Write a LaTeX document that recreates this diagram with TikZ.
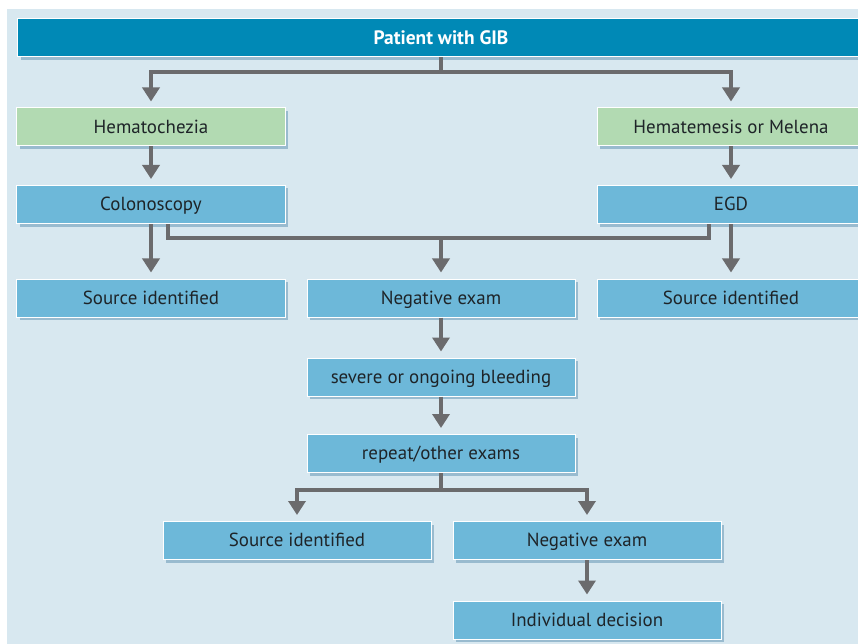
\documentclass[tikz,border=0pt]{standalone}
\usepackage{fontspec}
\setmainfont{PT Sans}
\usetikzlibrary{arrows.meta,shadows}
\definecolor{bgc}{HTML}{D8E8F0}
\definecolor{boxc}{HTML}{6DB8D9}
\definecolor{greenc}{HTML}{B2DAB2}
\definecolor{titlec}{HTML}{0089B6}
\definecolor{linec}{HTML}{6B6B6D}
\definecolor{textc}{HTML}{1E2428}
\definecolor{shadowc}{HTML}{7FA9C2}
\tikzset{
  box/.style={draw=white, line width=1bp, fill=boxc, minimum width=268bp, minimum height=38bp,
    inner sep=0pt, text=textc, font=\fontsize{19}{22}\selectfont,
    text height=15bp, text depth=2.5bp,
    drop shadow={shadow xshift=3bp, shadow yshift=-3bp, fill=shadowc, opacity=0.7}},
  gbox/.style={box, fill=greenc},
  tbox/.style={box, fill=titlec, text=white, font=\fontsize{19.5}{22}\selectfont\bfseries},
  conn/.style={draw=linec, line width=4bp, line join=miter},
  arr/.style={conn, -{Triangle[width=17bp,length=14bp]}, shorten >=6bp}
}
\begin{document}
\begin{tikzpicture}[x=1bp,y=-1bp]
\useasboundingbox (0,0) rectangle (858,644);
\fill[white] (0,0) rectangle (858,644);
\fill[bgc] (7,9) rectangle (870,660);

\node[tbox, minimum width=846bp] (title) at (441,38) {Patient with GIB};
\node[gbox] (hem) at (151,127) {Hematochezia};
\node[gbox] (hme) at (731,127) {Hematemesis or Melena};
\node[box] (colon) at (151,204.5) {Colonoscopy};
\node[box] (egd) at (731,204.5) {EGD};
\node[box] (src1) at (151,298) {Source identified};
\node[box] (neg1) at (441,298) {Negative exam};
\node[box] (src2) at (731,298) {Source identified};
\node[box] (sev) at (441,377) {severe or ongoing bleeding};
\node[box] (rep) at (441,453.5) {repeat/other exams};
\node[box] (src3) at (297,540.5) {Source identified};
\node[box] (neg2) at (587,540.5) {Negative exam};
\node[box] (ind) at (587,620) {Individual decision};

\coordinate (t1) at (441,72);
\coordinate (m1) at (441,237.5);
\coordinate (r1) at (441,490);

\draw[conn] (title.south) -- (t1);
\draw[arr] (t1) -| (hem.north);
\draw[arr] (t1) -| (hme.north);
\draw[arr] (hem) -- (colon);
\draw[arr] (hme) -- (egd);
\draw[arr] (colon) -- (src1);
\draw[arr] (egd) -- (src2);
\draw[conn] ([xshift=17bp]colon.south) |- (m1) -| ([xshift=-22bp]egd.south);
\draw[arr] (m1) -- (neg1.north);
\draw[arr] (neg1) -- (sev);
\draw[arr] (sev) -- (rep);
\draw[conn] (rep.south) -- (r1);
\draw[arr] (r1) -| (src3.north);
\draw[arr] (r1) -| (neg2.north);
\draw[arr] (neg2) -- (ind);
\end{tikzpicture}
\end{document}
